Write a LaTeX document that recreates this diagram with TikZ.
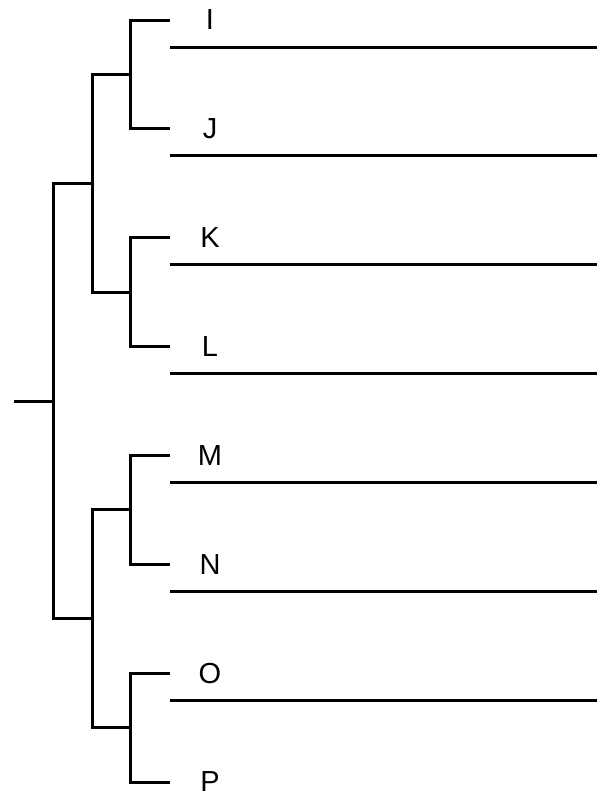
\documentclass[tikz,border=0pt]{standalone}
\usepackage{fontspec}
\setmainfont{Liberation Sans}
\tikzset{
  leaf/.style={minimum width=80pt,inner sep=0pt,font=\fontsize{29}{35}\selectfont},
  branch/.style={line width=3pt,line join=miter},
}
\begin{document}
\begin{tikzpicture}[x=1pt,y=-1pt]
            \useasboundingbox (0,0) rectangle (607,804);
            \node[leaf] (I) at (210,20) {I};
            \node[leaf] (J) at (210,128.9) {J};
            \node[leaf] (K) at (210,237.7) {K};
            \node[leaf] (L) at (210,346.6) {L};
            \node[leaf] (M) at (210,455.4) {M};
            \node[leaf] (N) at (210,564.3) {N};
            \node[leaf] (O) at (210,673.1) {O};
            \node[leaf] (P) at (210,782) {P};
            \coordinate (IJ) at (130,74.45);
            \coordinate (KL) at (130,292.15);
            \coordinate (MN) at (130,509.85);
            \coordinate (OP) at (130,727.55);
            \coordinate (IJKL) at (92,183.3);
            \coordinate (MNOP) at (92,618.7);
            \coordinate (root) at (53,401);
            \coordinate (stub) at (14,401);
            \draw[branch] (I.west) -| (IJ) |- (J.west);
            \draw[branch] (K.west) -| (KL) |- (L.west);
            \draw[branch] (M.west) -| (MN) |- (N.west);
            \draw[branch] (O.west) -| (OP) |- (P.west);
            \draw[branch] (IJ) -| (IJKL) |- (KL);
            \draw[branch] (MN) -| (MNOP) |- (OP);
            \draw[branch] (IJKL) -| (root) |- (MNOP);
            \draw[branch] (stub) -- (root);
            \foreach \n in {I,J,K,L,M,N,O}
                \draw[branch] ([yshift=-27pt]\n.west) -- +(427,0);
        \end{tikzpicture}
\end{document}
